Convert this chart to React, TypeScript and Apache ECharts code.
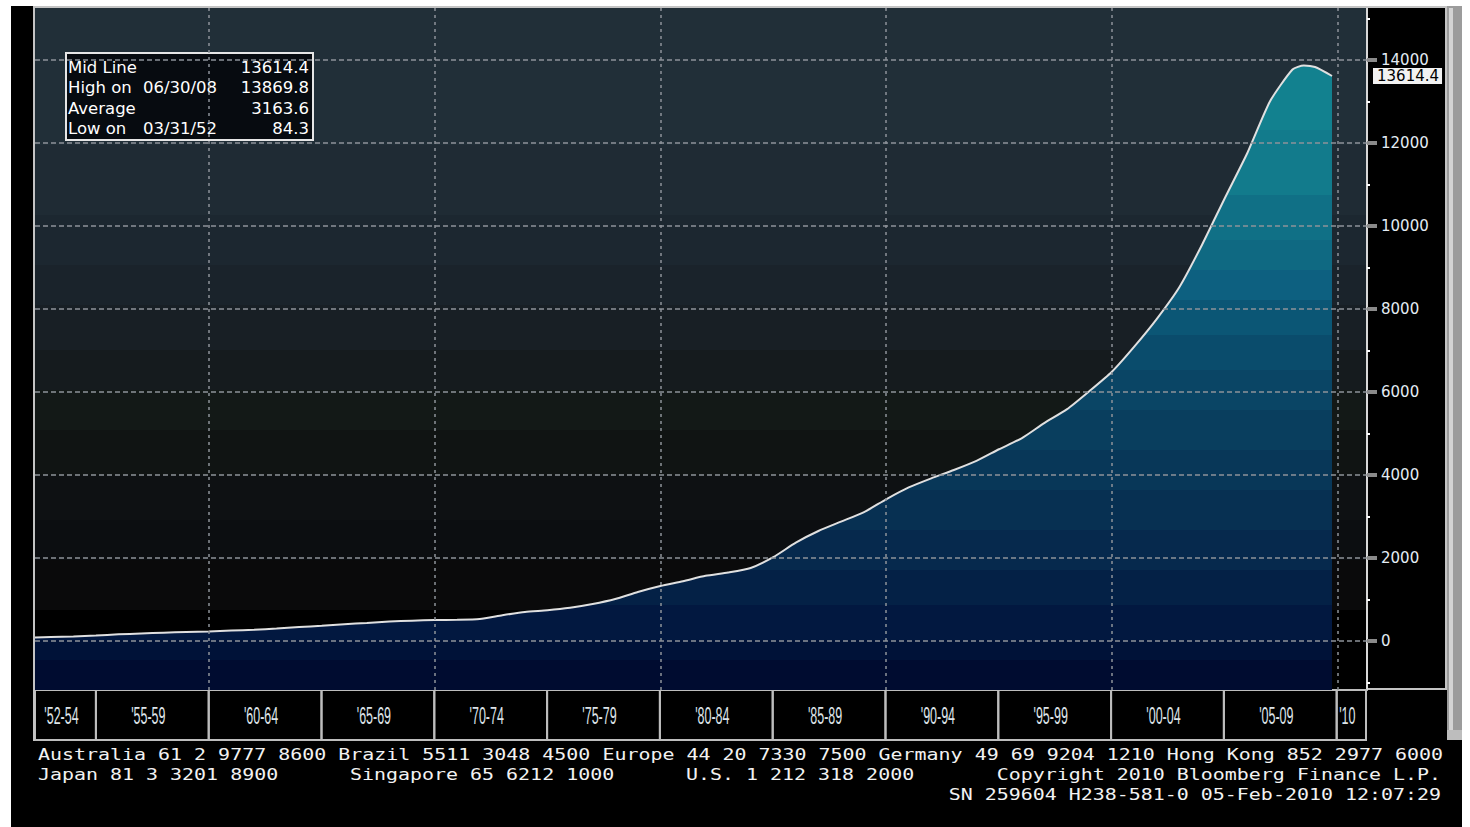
import React, { useEffect, useRef } from "react";
import * as echarts from "echarts";

// ---- data (year, value) ----
const years = [
  1952.3, 1953, 1954, 1955, 1956, 1957, 1958, 1959, 1960, 1961, 1962, 1963, 1964, 1965, 1966, 1967, 1968, 1969,
  1970, 1971, 1972, 1973, 1974, 1975, 1976, 1977, 1978, 1979, 1980, 1981, 1982, 1983, 1984, 1985, 1986, 1987,
  1988, 1989, 1990, 1991, 1992, 1993, 1994, 1995, 1996, 1997, 1998, 1999, 2000, 2001, 2002, 2003, 2004, 2005,
  2006, 2007, 2008, 2008.5, 2009, 2009.75,
];
const values = [
  84.3, 95, 110, 130, 160, 180, 200, 215, 230, 250, 268, 300, 335, 365, 405, 435, 470, 490,
  505, 510, 530, 620, 700, 740, 800, 890, 1010, 1180, 1325, 1440, 1570, 1650, 1760, 2020, 2370, 2650,
  2875, 3100, 3414, 3700, 3920, 4120, 4340, 4620, 4884, 5250, 5580, 6020, 6489, 7100, 7770, 8537, 9555, 10670,
  11760, 13000, 13770, 13869.8, 13830, 13614.4,
];

const yTickValues = [0, 2000, 4000, 6000, 8000, 10000, 12000, 14000];
const yMinorTickValues = [-1000, 1000, 3000, 5000, 7000, 9000, 11000, 13000, 15000];
const decadeLines = [1960, 1970, 1980, 1990, 2000, 2010];
const periodBounds = [1952.3, 1955, 1960, 1965, 1970, 1975, 1980, 1985, 1990, 1995, 2000, 2005, 2010, 2011.3];
const periodLabels = ["'52-54", "'55-59", "'60-64", "'65-69", "'70-74", "'75-79", "'80-84", "'85-89", "'90-94", "'95-99", "'00-04", "'05-09", "'10"];

const midLine = 13614.4;
const highValue = 13869.8;
const highDate = "06/30/08";
const avgValue = 3163.6;
const lowValue = 84.3;
const lowDate = "03/31/52";

const footerLine1 = "Australia 61 2 9777 8600 Brazil 5511 3048 4500 Europe 44 20 7330 7500 Germany 49 69 9204 1210 Hong Kong 852 2977 6000";
const footerLine2Parts = ["Japan 81 3 3201 8900", "Singapore 65 6212 1000", "U.S. 1 212 318 2000"];
const footerCopyright = "Copyright 2010 Bloomberg Finance L.P.";
const footerLine3 = "SN 259604 H238-581-0 05-Feb-2010 12:07:29";

const X_MIN = 1952.3;
const X_MAX = 2011.3;
const Y_MIN = -1181;
const Y_MAX = 15253;

const H = 827;
function bands(list: [number, string][], end: number) {
  const stops: { offset: number; color: string }[] = [];
  for (let i = 0; i < list.length; i++) {
    const [y, c] = list[i];
    const yNext = i + 1 < list.length ? list[i + 1][0] : end;
    stops.push({ offset: y / H, color: c });
    stops.push({ offset: (yNext - 0.05) / H, color: c });
  }
  return { type: "linear", x: 0, y: 0, x2: 0, y2: H, global: true, colorStops: stops };
}

const bgGradient = bands(
  [
    [8, "#212f38"],
    [145, "#1f2b34"],
    [215, "#1c2730"],
    [265, "#1a232b"],
    [305, "#181f25"],
    [350, "#151b1e"],
    [390, "#131917"],
    [430, "#101413"],
    [475, "#0e1113"],
    [520, "#0c0e11"],
    [560, "#0a0a0b"],
    [610, "#000000"],
  ],
  690
);

const areaGradient = bands(
  [
    [40, "#12818f"],
    [130, "#127b8c"],
    [195, "#107086"],
    [240, "#0f6982"],
    [270, "#0d6080"],
    [300, "#0b5675"],
    [335, "#0a4c6c"],
    [370, "#0a4565"],
    [410, "#093e5e"],
    [450, "#083758"],
    [490, "#073052"],
    [530, "#06294d"],
    [570, "#042146"],
    [605, "#021840"],
    [640, "#001238"],
    [660, "#000c30"],
  ],
  692
);

const labelFont = "DejaVu Sans, Liberation Sans, Arial, sans-serif";
const monoFont = "DejaVu Sans Mono, Liberation Mono, monospace";
const FOOT_SCALE = 1.247;

function buildOption() {
  const legendRows = [
    { left: "Mid Line", mid: "", right: midLine.toFixed(1) },
    { left: "High on", mid: highDate, right: highValue.toFixed(1) },
    { left: "Average", mid: "", right: avgValue.toFixed(1) },
    { left: "Low on", mid: lowDate, right: lowValue.toFixed(1) },
  ];
  const legendChildren: any[] = [
    { type: "rect", shape: { x: 0, y: 0, width: 247, height: 87 }, style: { fill: "#070b10", stroke: "#e6e6e6", lineWidth: 2 } },
  ];
  legendRows.forEach((r, i) => {
    const cy = 14 + i * 20.5;
    const st = { fill: "#ffffff", fontSize: 16.5, fontFamily: labelFont, verticalAlign: "middle" };
    legendChildren.push({ type: "text", x: 2, y: cy, style: { ...st, text: r.left, align: "left" } });
    if (r.mid) legendChildren.push({ type: "text", x: 77, y: cy, style: { ...st, text: r.mid, align: "left" } });
    legendChildren.push({ type: "text", x: 243, y: cy, style: { ...st, text: r.right, align: "right" } });
  });

  const footStyle = { fill: "#f2f2f2", fontSize: 16, fontFamily: monoFont, verticalAlign: "middle" };
  const footerPartX = [38, 350, 686];

  const graphic: any[] = [
    { type: "rect", z: 50, shape: { x: 0, y: 0, width: 1470, height: 6 }, style: { fill: "#ffffff" } },
    { type: "rect", z: 50, shape: { x: 0, y: 0, width: 11, height: 827 }, style: { fill: "#ffffff" } },
    { type: "rect", z: 50, shape: { x: 1462, y: 0, width: 8, height: 827 }, style: { fill: "#ffffff" } },
    { type: "rect", z: 40, shape: { x: 33, y: 6, width: 1414, height: 2 }, style: { fill: "#c4c4c4" } },
    { type: "rect", z: 40, shape: { x: 33, y: 6, width: 2, height: 735 }, style: { fill: "#c4c4c4" } },
    { type: "rect", z: 40, shape: { x: 1445, y: 8, width: 2, height: 682 }, style: { fill: "#c4c4c4" } },
    { type: "rect", z: 40, shape: { x: 1368, y: 688, width: 79, height: 2 }, style: { fill: "#c4c4c4" } },
    { type: "rect", z: 40, shape: { x: 1447, y: 6, width: 15, height: 734 }, style: { fill: "#9c9c9c" } },
    { type: "rect", z: 41, shape: { x: 1449, y: 8, width: 4, height: 722 }, style: { fill: "#d4d4d4" } },
    { type: "rect", z: 41, shape: { x: 1447, y: 730, width: 15, height: 10 }, style: { fill: "#bdbdbd" } },
    { type: "group", x: 66, y: 53, z: 100, children: legendChildren },
    { type: "text", z: 60, x: 38, y: 754, scaleX: FOOT_SCALE, style: { ...footStyle, text: footerLine1, align: "left" } },
    ...footerLine2Parts.map((t, i) => ({
      type: "text", z: 60, x: footerPartX[i], y: 774, scaleX: FOOT_SCALE, style: { ...footStyle, text: t, align: "left" },
    })),
    { type: "text", z: 60, x: 1441, y: 774, scaleX: FOOT_SCALE, style: { ...footStyle, text: footerCopyright, align: "right" } },
    { type: "text", z: 60, x: 1441, y: 794, scaleX: FOOT_SCALE, style: { ...footStyle, text: footerLine3, align: "right" } },
  ];

  const gridStyleV = { type: [3, 4], color: "#8d9399", width: 1.5 };
  const gridStyleH = { type: [5, 3], color: "#8d9399", width: 1.5 };

  return {
    animation: false,
    backgroundColor: "#000000",
    grid: [
      { left: 35, right: 103, top: 8, bottom: 137, show: true, backgroundColor: bgGradient, borderWidth: 0, outerBoundsMode: "none" },
      { left: 35, right: 104, top: 690, bottom: 87, show: false, outerBoundsMode: "none" },
    ],
    xAxis: [
      { type: "value", gridIndex: 0, min: X_MIN, max: X_MAX, show: false },
      { type: "value", gridIndex: 1, min: X_MIN, max: X_MAX, show: false },
    ],
    yAxis: [
      {
        type: "value", gridIndex: 0, position: "right", min: Y_MIN, max: Y_MAX,
        splitLine: { show: false },
        axisLine: { show: true, lineStyle: { color: "#d8d8d8", width: 2 } },
        axisTick: { show: true, customValues: yTickValues, length: 10, lineStyle: { color: "#8a8a8a", width: 4 } },
        axisLabel: {
          show: true, customValues: yTickValues, formatter: (v: number) => String(Math.round(v)),
          color: "#e4ecf4", fontSize: 15, fontFamily: labelFont, margin: 14,
        },
      },
      {
        type: "value", gridIndex: 0, position: "right", min: Y_MIN, max: Y_MAX,
        splitLine: { show: false }, axisLine: { show: false }, axisLabel: { show: false },
        axisTick: { show: true, customValues: yMinorTickValues, length: 3, lineStyle: { color: "#ffffff", width: 2 } },
      },
      {
        type: "value", gridIndex: 0, position: "right", min: Y_MIN, max: Y_MAX,
        splitLine: { show: false }, axisLine: { show: false }, axisTick: { show: false },
        axisLabel: {
          show: true, customValues: [midLine], formatter: () => midLine.toFixed(1),
          color: "#000000", backgroundColor: "#f2f2f2", padding: [1, 3, 0, 4],
          fontSize: 15, fontFamily: labelFont, margin: 6,
        },
      },
      { type: "value", gridIndex: 1, min: 0, max: 1, show: false },
    ],
    series: [
      {
        type: "line",
        xAxisIndex: 0,
        yAxisIndex: 0,
        data: years.map((y, i) => [y, values[i]]),
        symbol: "none",
        showSymbol: false,
        smooth: 0.2,
        lineStyle: { color: "#e0e0e0", width: 2 },
        areaStyle: { origin: "start", color: areaGradient, opacity: 1 },
        emphasis: { disabled: true },
        markLine: {
          silent: true,
          symbol: ["none", "none"],
          label: { show: false },
          animation: false,
          data: [
            ...decadeLines.map((v) => ({ xAxis: v, lineStyle: gridStyleV })),
            ...yTickValues.map((v) => ({ yAxis: v, lineStyle: gridStyleH })),
          ],
        },
      },
      {
        type: "custom",
        xAxisIndex: 1,
        yAxisIndex: 3,
        silent: true,
        encode: { x: [0, 1] },
        data: periodLabels.map((_, i) => [periodBounds[i], periodBounds[i + 1], i]),
        renderItem: (params: any, api: any) => {
          const s = api.value(0);
          const e = api.value(1);
          const idx = api.value(2);
          const p0 = api.coord([s, 0]);
          const p1 = api.coord([e, 1]);
          return {
            type: "group",
            children: [
              {
                type: "rect",
                shape: { x: p0[0], y: p1[1], width: p1[0] - p0[0], height: p0[1] - p1[1] },
                style: { fill: "none", stroke: "#bdbdbd", lineWidth: 2 },
              },
              {
                type: "text",
                x: (p0[0] + p1[0]) / 2 - 4,
                y: (p0[1] + p1[1]) / 2 + 1,
                scaleX: 0.52,
                style: {
                  text: periodLabels[idx], fill: "#dde3e8", fontSize: 24,
                  fontFamily: "Liberation Sans, Arial, sans-serif", align: "center", verticalAlign: "middle",
                },
              },
            ],
          };
        },
      },
    ],
    graphic,
  };
}

export default function App() {
  const ref = useRef<HTMLDivElement>(null);
  useEffect(() => {
    const chart = echarts.init(ref.current!, null, { renderer: "svg" });
    chart.setOption(buildOption() as any);
    return () => chart.dispose();
  }, []);
  return <div ref={ref} style={{ position: "fixed", left: 0, top: 0, width: 1470, height: 827 }} />;
}
